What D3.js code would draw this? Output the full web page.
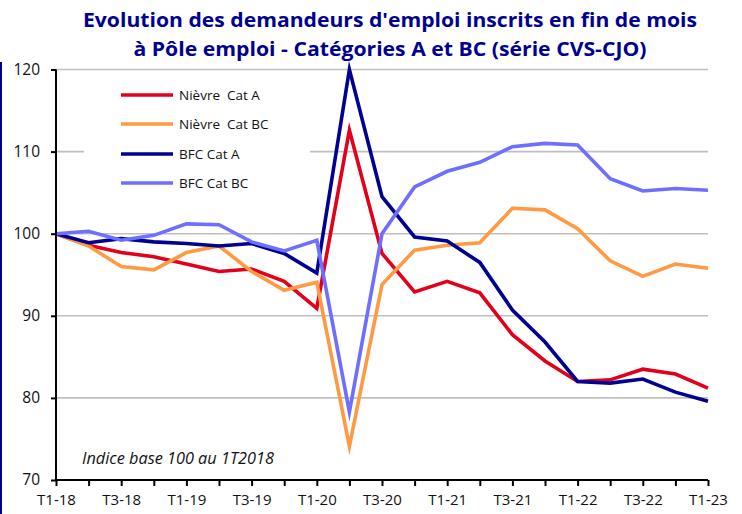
<!DOCTYPE html>
<html><head><meta charset="utf-8">
<script src="https://cdn.jsdelivr.net/npm/d3@7"></script>
<style>
html,body{margin:0;padding:0;background:#fff;}
svg{display:block;}
</style></head>
<body>
<script>
const quarters = ["T1-18","T2-18","T3-18","T4-18","T1-19","T2-19","T3-19","T4-19","T1-20","T2-20","T3-20","T4-20","T1-21","T2-21","T3-21","T4-21","T1-22","T2-22","T3-22","T4-22","T1-23"];
const tickLabels = ["T1-18","T3-18","T1-19","T3-19","T1-20","T3-20","T1-21","T3-21","T1-22","T3-22","T1-23"];
const yTicks = [70,80,90,100,110,120];
const nievreA  = [100,98.6,97.7,97.2,96.3,95.4,95.7,94.2,90.9,112.6,97.6,92.9,94.2,92.8,87.7,84.5,82.0,82.2,83.5,82.9,81.2];
const nievreBC = [100,98.5,96.0,95.6,97.7,98.5,95.4,93.1,94.1,74.1,93.8,98.0,98.6,98.9,103.1,102.9,100.6,96.7,94.8,96.3,95.8];
const bfcA     = [100,98.9,99.4,99.0,98.8,98.5,98.8,97.6,95.2,120.0,104.5,99.6,99.1,96.5,90.7,86.8,82.0,81.8,82.3,80.7,79.6];
const bfcBC    = [100,100.3,99.2,99.8,101.2,101.1,99.0,97.9,99.2,78.3,100.0,105.7,107.6,108.7,110.6,111.0,110.8,106.7,105.2,105.5,105.3];
const seriesNames = ["Nièvre  Cat A","Nièvre  Cat BC","BFC Cat A","BFC Cat BC"];
const seriesColors = ["#e3001b","#ff9a42","#000091","#6e6eff"];
const seriesData = [nievreA, nievreBC, bfcA, bfcBC];

const W = 742, H = 514;
const FONT = "'Open Sans', sans-serif";
const svg = d3.select("body").append("svg").attr("width", W).attr("height", H);

// left frame line
svg.append("line").attr("x1",1).attr("x2",1).attr("y1",62).attr("y2",H)
  .attr("stroke","#000091").attr("stroke-width",2);

// title
const title = svg.append("text").attr("text-anchor","middle")
  .attr("font-family",FONT).attr("font-weight","bold")
  .attr("font-size",20).attr("fill","#000091");
title.append("tspan").attr("x",390).attr("y",27).attr("textLength",614).attr("lengthAdjust","spacingAndGlyphs")
  .text("Evolution des demandeurs d'emploi inscrits en fin de mois");
title.append("tspan").attr("x",390).attr("y",56).attr("textLength",513).attr("lengthAdjust","spacingAndGlyphs")
  .text("à Pôle emploi - Catégories A et BC (série CVS-CJO)");

const x = d3.scalePoint().domain(quarters).range([56, 708]);
const y = d3.scaleLinear().domain([70,120]).range([480, 69.5]);

// gridlines
svg.append("g").selectAll("line").data(yTicks.filter(d=>d>70)).join("line")
  .attr("x1",56).attr("x2",708).attr("y1",d=>y(d)).attr("y2",d=>y(d))
  .attr("stroke","#bfbfbf").attr("stroke-width",1.6);

// legend background
svg.append("rect").attr("x",84).attr("y",80).attr("width",226).attr("height",115).attr("fill","#fff");

// series
const line = d3.line().x((d,i)=>x(quarters[i])).y(d=>y(d));
seriesData.forEach((s,k)=>{
  svg.append("path").datum(s).attr("d",line).attr("fill","none")
    .attr("stroke",seriesColors[k]).attr("stroke-width",3.6)
    .attr("stroke-linejoin","miter").attr("stroke-miterlimit",10);
});

// axes
const yAxis = d3.axisLeft(y).tickValues(yTicks).tickSize(5).tickPadding(11).tickFormat(d3.format("d"));
const gy = svg.append("g").attr("transform","translate(56,0)").call(yAxis);
gy.select(".domain").attr("stroke","#000").attr("stroke-width",2).attr("d","M0,"+y(70)+"V"+y(120));
gy.selectAll(".tick line").attr("stroke","#000").attr("stroke-width",2);
gy.selectAll("text").attr("font-family",FONT).attr("font-size",15.5).attr("fill","#111");

const xAxis = d3.axisBottom(x).tickSize(6).tickPadding(8)
  .tickFormat(d=>tickLabels.includes(d)?d:"");
const gx = svg.append("g").attr("transform","translate(0,480)").call(xAxis);
gx.select(".domain").attr("stroke","#000").attr("stroke-width",2).attr("d","M56,0H708");
gx.selectAll(".tick line").attr("stroke","#000").attr("stroke-width",2);
gx.selectAll("text").attr("font-family",FONT).attr("font-size",15).attr("fill","#111");

// legend
const legY = [95,124,154,183];
seriesNames.forEach((n,k)=>{
  svg.append("line").attr("x1",121).attr("x2",173).attr("y1",legY[k]).attr("y2",legY[k])
    .attr("stroke",seriesColors[k]).attr("stroke-width",3.6);
  svg.append("text").attr("x",179).attr("y",legY[k]+5).text(n)
    .attr("font-family",FONT).attr("font-size",13.5).attr("fill","#111")
    .style("white-space","pre");
});

// annotation
svg.append("text").attr("x",82).attr("y",464).text("Indice base 100 au 1T2018")
  .attr("font-family",FONT).attr("font-style","italic")
  .attr("font-size",16.3).attr("fill","#111");
</script>
</body></html>
